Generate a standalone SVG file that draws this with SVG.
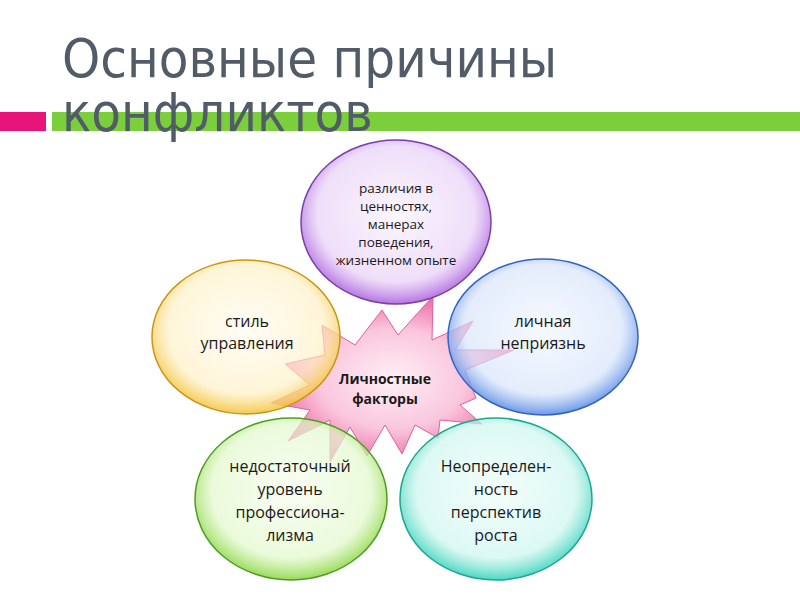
<svg xmlns="http://www.w3.org/2000/svg" width="800" height="600" viewBox="0 0 800 600">
<style>
.title{font-family:"DejaVu Sans Condensed","DejaVu Sans",sans-serif;font-stretch:condensed;font-size:54px;fill:#525c68}
.t{font-family:"Open Sans",Lato,sans-serif;font-size:16px;fill:#1a1a1a;text-anchor:middle}
.ts{font-family:"Open Sans",Lato,sans-serif;font-size:13.5px;fill:#1a1a1a;text-anchor:middle}
.tb{font-family:"Open Sans",Lato,sans-serif;font-size:14px;font-weight:bold;fill:#1a1a1a;text-anchor:middle}
ellipse{stroke-width:1.5}
</style>
<defs>
<radialGradient id="gStar" cx="50%" cy="50%" r="55%"><stop offset="0" stop-color="#fff0f6"/><stop offset="0.55" stop-color="#fac6dd"/><stop offset="1" stop-color="#ea5b9c"/></radialGradient>
<radialGradient id="gP" cx="50%" cy="45%" r="55%"><stop offset="0" stop-color="#faf3fd" stop-opacity="0.75"/><stop offset="0.75" stop-color="#ead3f7" stop-opacity="0.75"/><stop offset="1" stop-color="#b06ce0" stop-opacity="0.95"/></radialGradient>
<radialGradient id="gY" cx="50%" cy="45%" r="55%"><stop offset="0" stop-color="#fffbef" stop-opacity="0.65"/><stop offset="0.75" stop-color="#fff0c4" stop-opacity="0.65"/><stop offset="1" stop-color="#f3c43c" stop-opacity="0.9"/></radialGradient>
<radialGradient id="gB" cx="50%" cy="45%" r="55%"><stop offset="0" stop-color="#f1f5fe" stop-opacity="0.65"/><stop offset="0.75" stop-color="#d6e3fb" stop-opacity="0.65"/><stop offset="1" stop-color="#5a8ce6" stop-opacity="0.9"/></radialGradient>
<radialGradient id="gG" cx="50%" cy="45%" r="55%"><stop offset="0" stop-color="#f6fdee" stop-opacity="0.7"/><stop offset="0.75" stop-color="#e2f8cb" stop-opacity="0.7"/><stop offset="1" stop-color="#8ed84a" stop-opacity="0.92"/></radialGradient>
<radialGradient id="gT" cx="50%" cy="45%" r="55%"><stop offset="0" stop-color="#effdfa" stop-opacity="0.7"/><stop offset="0.75" stop-color="#cdf6ee" stop-opacity="0.7"/><stop offset="1" stop-color="#3ed4be" stop-opacity="0.92"/></radialGradient>
</defs>
<rect width="800" height="600" fill="#ffffff"/>
<g id="header">
<rect x="0" y="112" width="46" height="19" fill="#e8147a"/>
<rect x="52" y="112" width="748" height="19" fill="#7ccf3c"/>
<text class="title" x="62" y="77">Основные причины</text>
<text class="title" x="62" y="131">конфликтов</text>
</g>
<g id="connectors"/>
<g id="center">
<polygon points="382,310 398,335 433,296 432,340 473,321 455,350 514,350 465,370 476,398 460,405 482,424 440,420 438,438 415,425 402,454 385,425 367,456 350,427 330,462 330,420 288,441 310,410 271,403 310,385 285,364 325,355 322,325 355,345" fill="url(#gStar)" stroke="#e0609c" stroke-width="1"/>
<text class="tb" x="385" y="384">Личностные</text>
<text class="tb" x="385" y="404">факторы</text>
</g>
<g id="n-top">
<ellipse cx="396" cy="222" rx="95" ry="82" fill="url(#gP)" stroke="#7a3fa8"/>
<text class="ts" x="396" y="193">различия в</text>
<text class="ts" x="396" y="211">ценностях,</text>
<text class="ts" x="396" y="229">манерах</text>
<text class="ts" x="396" y="247">поведения,</text>
<text class="ts" x="396" y="265">жизненном опыте</text>
</g>
<g id="n-left">
<ellipse cx="246" cy="337" rx="94" ry="77" fill="url(#gY)" stroke="#c9961a"/>
<text class="t" x="247" y="327">стиль</text>
<text class="t" x="247" y="349">управления</text>
</g>
<g id="n-right">
<ellipse cx="543" cy="337" rx="95" ry="78" fill="url(#gB)" stroke="#3563c4"/>
<text class="t" x="543" y="327">личная</text>
<text class="t" x="543" y="349">неприязнь</text>
</g>
<g id="n-bl">
<ellipse cx="291" cy="499" rx="96" ry="81" fill="url(#gG)" stroke="#4f9e22"/>
<text class="t" x="290" y="472">недостаточный</text>
<text class="t" x="290" y="495">уровень</text>
<text class="t" x="290" y="518">профессиона-</text>
<text class="t" x="290" y="541">лизма</text>
</g>
<g id="n-br">
<ellipse cx="496" cy="499" rx="96" ry="81" fill="url(#gT)" stroke="#1ea690"/>
<text class="t" x="496" y="472">Неопределен-</text>
<text class="t" x="496" y="495">ность</text>
<text class="t" x="496" y="518">перспектив</text>
<text class="t" x="496" y="541">роста</text>
</g>
</svg>
